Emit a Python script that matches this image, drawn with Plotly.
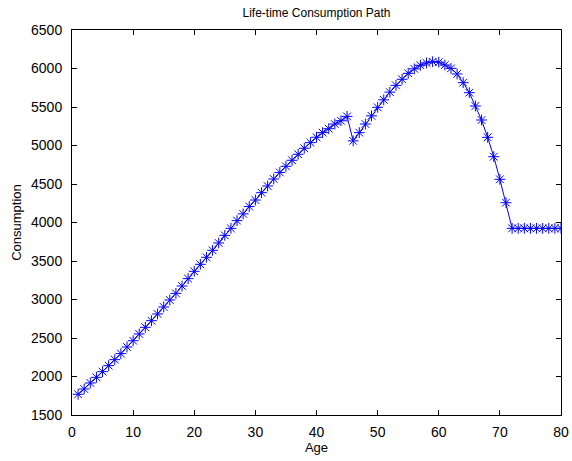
import plotly.graph_objects as go

ages = list(range(1, 81))
consumption = [
    1769, 1838, 1916, 1989, 2063, 2141, 2219, 2297, 2383, 2465,
    2552, 2639, 2725, 2812, 2903, 2994, 3080, 3175, 3271, 3366,
    3457, 3548, 3639, 3734, 3833, 3924, 4024, 4112, 4207, 4292,
    4387, 4474, 4565, 4650, 4730, 4808, 4886, 4964, 5037, 5107,
    5167, 5218, 5279, 5322, 5378, 5060, 5167, 5279, 5385, 5496,
    5593, 5693, 5781, 5860, 5937, 5995, 6042, 6072, 6088, 6082,
    6045, 6002, 5929, 5816, 5686, 5513, 5331, 5106, 4855, 4561,
    4257, 3924, 3924, 3924, 3924, 3924, 3924, 3924, 3924, 3924,
]
x_ticks = list(range(0, 81, 10))
y_ticks = list(range(1500, 6501, 500))

FONT = "Liberation Sans, Arial, Helvetica, sans-serif"

fig = go.Figure()
fig.add_trace(go.Scatter(
    x=ages, y=consumption, mode="lines+markers",
    line=dict(color="#0000ff", width=1),
    marker=dict(symbol="asterisk-open", size=9, color="#0000ff",
                line=dict(color="#0000ff", width=1)),
    showlegend=False,
))

axis_common = dict(
    showgrid=False, zeroline=False, showline=True, linecolor="black",
    linewidth=1, mirror="ticks", ticks="inside", ticklen=5,
    tickcolor="black", tickwidth=1, automargin=False,
    tickfont=dict(family=FONT, size=14, color="black"),
)

fig.update_layout(
    template="none",
    width=572, height=461,
    margin=dict(l=72, r=11, t=30, b=46, autoexpand=False),
    paper_bgcolor="white", plot_bgcolor="white",
    title=dict(text="Life-time Consumption Path", x=0.5, xref="paper",
               xanchor="center",
               y=1 - 13 / 461, yanchor="middle",
               font=dict(family=FONT, size=12, color="black")),
    xaxis=dict(range=[0, 80], tickvals=x_ticks, ticklabelstandoff=4,
               title=dict(text="Age", standoff=2,
                          font=dict(family=FONT, size=13, color="black")),
               **axis_common),
    yaxis=dict(range=[1500, 6500], tickvals=y_ticks, ticklabelstandoff=6,
               title=dict(text="Consumption", standoff=6,
                          font=dict(family=FONT, size=13, color="black")),
               **axis_common),
)

fig.write_html("out.html")
